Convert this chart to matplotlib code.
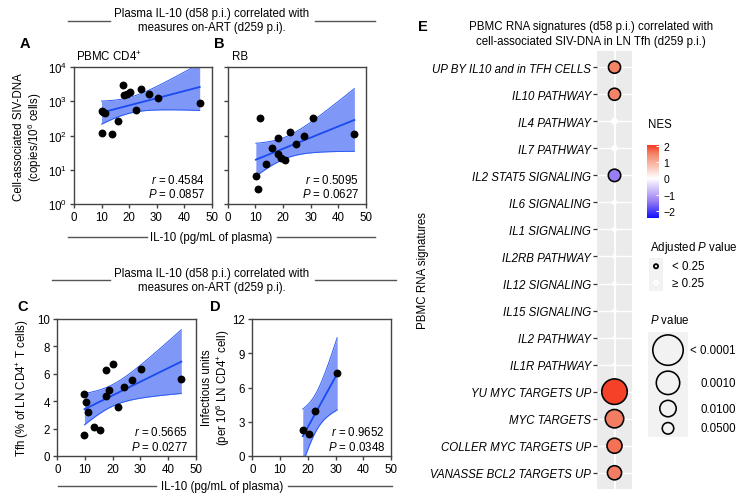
import numpy as np
import matplotlib
matplotlib.use('Agg')
import matplotlib.pyplot as plt
from matplotlib.lines import Line2D
from matplotlib.colors import LinearSegmentedColormap, Normalize
from matplotlib.cm import ScalarMappable
import matplotlib.ticker as mticker

plt.rcParams['font.family'] = ['Liberation Sans', 'DejaVu Sans']
plt.rcParams['mathtext.fontset'] = 'custom'
plt.rcParams['mathtext.rm'] = 'Liberation Sans'
plt.rcParams['mathtext.it'] = 'Liberation Sans:italic'
plt.rcParams['mathtext.bf'] = 'Liberation Sans:bold'
plt.rcParams['axes.unicode_minus'] = True

# ---------------- data ----------------
# Panel A: PBMC CD4+  (IL-10 pg/mL vs cell-associated SIV-DNA copies/1e6 cells)
a_il10 = [10.0, 10.5, 11.2, 10.0, 13.7, 15.9, 17.9, 18.3, 19.3, 20.5, 22.5, 24.5, 27.4, 30.6, 45.7]
a_dna = [527, 500, 462, 120, 108, 267, 3020, 1555, 1580, 1850, 563, 2310, 1630, 1220, 895]
a_stats = ("0.4584", "0.0857")
# Panel B: RB
b_il10 = [11.6, 10.2, 11.0, 13.9, 16.0, 18.2, 18.2, 19.2, 20.8, 22.7, 24.8, 27.6, 30.7, 45.8]
b_dna = [333, 6.5, 2.7, 14.4, 43.6, 83, 29, 21.6, 19.6, 124, 55, 95, 326, 108]
b_stats = ("0.5095", "0.0627")
# Panel C: Tfh (% of LN CD4+ T cells)
c_il10 = [9.8, 10.4, 11.0, 9.8, 13.3, 15.5, 17.7, 20.1, 17.7, 18.5, 21.9, 24.2, 26.9, 30.1, 44.8]
c_tfh = [4.51, 3.95, 3.24, 1.56, 2.10, 1.88, 6.29, 6.68, 4.41, 4.80, 3.59, 5.07, 5.56, 6.37, 5.59]
c_stats = ("0.5665", "0.0277")
# Panel D: infectious units per 1e6 LN CD4+ cells
d_il10 = [18.2, 20.6, 22.6, 30.6]
d_iu = [2.30, 1.90, 3.91, 7.29]
d_stats = ("0.9652", "0.0348")
# t critical values (two-sided 95%) by degrees of freedom
t975 = {13: 2.160, 12: 2.179, 2: 4.303}

# Panel E: GSEA dot plot
sig_names = ["UP BY IL10 and in TFH CELLS", "IL10 PATHWAY", "IL4 PATHWAY", "IL7 PATHWAY",
             "IL2 STAT5 SIGNALING", "IL6 SIGNALING", "IL1 SIGNALING", "IL2RB PATHWAY",
             "IL12 SIGNALING", "IL15 SIGNALING", "IL2 PATHWAY", "IL1R PATHWAY",
             "YU MYC TARGETS UP", "MYC TARGETS", "COLLER MYC TARGETS UP", "VANASSE BCL2 TARGETS UP"]
sig_nes = [1.5, 1.5, 0.05, 0.05, -1.4, 0.03, 0.03, 0.02, 0.02, 0.02, 0.0, 0.0, 2.0, 1.55, 1.65, 1.55]
sig_p = [0.041, 0.041, 0.37, 0.44, 0.037, 0.72, 0.72, 0.85, 0.85, 0.85, 1.0, 0.98,
         0.0005, 0.0051, 0.0155, 0.021]
sig_padj = [0.15, 0.15, 0.80, 0.85, 0.20, 0.90, 0.90, 0.95, 0.95, 0.95, 1.0, 1.0,
            0.02, 0.06, 0.12, 0.15]
nes_range = (-2.45, 2.06)
pleg_breaks = [0.0001, 0.001, 0.01, 0.05]
pleg_labels = ["< 0.0001", "0.0010", "0.0100", "0.0500"]
padj_labels = ["< 0.25", "\u2265 0.25"]

# ---------------- figure helpers ----------------
W, H = 748, 502
fig = plt.figure(figsize=(W / 100, H / 100), dpi=100)
FS = 8.3
SPC = '#444444'


def px_axes(l, t, r, b):
    return fig.add_axes([l / W, 1 - b / H, (r - l) / W, (b - t) / H])


def ftext(x, y, s, **kw):
    kw.setdefault('fontsize', FS)
    return fig.text(x / W, 1 - y / H, s, **kw)


def hline(x0, x1, y):
    fig.add_artist(Line2D([x0 / W, x1 / W], [1 - y / H, 1 - y / H],
                          transform=fig.transFigure, color='#555555', lw=1.0))


def style(ax):
    for sp in ax.spines.values():
        sp.set_color(SPC)
        sp.set_linewidth(1.0)
    ax.tick_params(direction='out', length=2.6, width=1.0, color=SPC,
                   labelsize=FS, pad=2.5)


BAND = '#7F97F7'
EDGE = '#2B5BF5'
LINE = '#1A4BEE'


def draw_fit(ax, x, y, tcrit, log=False):
    x = np.asarray(x, float)
    y = np.asarray(y, float)
    yy = np.log10(y) if log else y
    n = len(x)
    b, a = np.polyfit(x, yy, 1)
    xs = np.linspace(x.min(), x.max(), 200)
    yhat = a + b * xs
    resid = yy - (a + b * x)
    s = np.sqrt(np.sum(resid ** 2) / (n - 2))
    sxx = np.sum((x - x.mean()) ** 2)
    se = s * np.sqrt(1 / n + (xs - x.mean()) ** 2 / sxx)
    lo, hi = yhat - tcrit * se, yhat + tcrit * se
    tr = (lambda v: 10 ** v) if log else (lambda v: v)
    ax.fill_between(xs, tr(lo), tr(hi), color=BAND, lw=0, zorder=1)
    ax.plot(xs, tr(lo), color=EDGE, lw=0.7, zorder=2)
    ax.plot(xs, tr(hi), color=EDGE, lw=0.7, zorder=2)
    ax.plot(xs, tr(yhat), color=LINE, lw=1.3, zorder=3)
    ax.scatter(x, y, s=32, color='black', zorder=4, linewidths=0, clip_on=False)


def stats_text(x, y, stats):
    ftext(x, y, "$r$ = " + stats[0], ha='right', va='center')
    ftext(x, y + 15, "$P$ = " + stats[1], ha='right', va='center')


# ---------------- Panel A ----------------
axA = px_axes(74, 68, 211.5, 205)
axA.set_yscale('log')
draw_fit(axA, a_il10, a_dna, t975[len(a_il10) - 2], log=True)
axA.set_xlim(0, 50)
axA.set_ylim(1, 1e4)
axA.set_xticks(range(0, 51, 10))
axA.yaxis.set_major_locator(mticker.LogLocator(base=10, numticks=10))
axA.yaxis.set_minor_locator(mticker.NullLocator())
style(axA)

# ---------------- Panel B ----------------
axB = px_axes(227.6, 68, 366, 205)
axB.set_yscale('log')
draw_fit(axB, b_il10, b_dna, t975[len(b_il10) - 2], log=True)
axB.set_xlim(0, 50)
axB.set_ylim(1, 1e4)
axB.set_xticks(range(0, 51, 10))
axB.yaxis.set_major_locator(mticker.LogLocator(base=10, numticks=10))
axB.yaxis.set_minor_locator(mticker.NullLocator())
axB.set_yticklabels([])
style(axB)

# ---------------- Panel C ----------------
axC = px_axes(57.3, 320, 195.7, 457)
draw_fit(axC, c_il10, c_tfh, t975[len(c_il10) - 2])
axC.set_xlim(0, 50)
axC.set_ylim(0, 10)
axC.set_xticks(range(0, 51, 10))
axC.set_yticks(range(0, 11, 2))
style(axC)

# ---------------- Panel D ----------------
axD = px_axes(252.3, 320, 391, 457)
draw_fit(axD, d_il10, d_iu, t975[len(d_il10) - 2])
axD.set_xlim(0, 50)
axD.set_ylim(0, 12)
axD.set_xticks(range(0, 51, 10))
axD.set_yticks(range(0, 13, 3))
style(axD)

stats_text(205, 180, a_stats)
stats_text(359, 180, b_stats)
stats_text(188, 433, c_stats)
stats_text(385, 433, d_stats)

# titles, separators and axis labels (left block)
ftext(212, 14, "Plasma IL-10 (d58 p.i.) correlated with", ha='center', va='center')
ftext(212, 28.5, "measures on-ART (d259 p.i).", ha='center', va='center')
hline(68, 110, 21.7)
hline(315, 375, 21.7)
ftext(211, 238, "IL-10 (pg/mL of plasma)", ha='center', va='center')
hline(68, 147, 238)
hline(277, 375, 238)

ftext(212, 274, "Plasma IL-10 (d58 p.i.) correlated with", ha='center', va='center')
ftext(212, 288, "measures on-ART (d259 p.i).", ha='center', va='center')
hline(52, 110, 280.5)
hline(315, 396, 280.5)
ftext(222, 487, "IL-10 (pg/mL of plasma)", ha='center', va='center')
hline(58, 156, 487)
hline(288, 392, 487)

ftext(25, 44, "A", fontsize=10.5, fontweight='bold', ha='center', va='center')
ftext(219, 44, "B", fontsize=10.5, fontweight='bold', ha='center', va='center')
ftext(23, 307, "C", fontsize=10.5, fontweight='bold', ha='center', va='center')
ftext(215, 307, "D", fontsize=10.5, fontweight='bold', ha='center', va='center')
ftext(423, 27, "E", fontsize=10.5, fontweight='bold', ha='center', va='center')

ftext(76, 57, "PBMC CD4$^{+}$", ha='left', va='center')
ftext(232, 57, "RB", ha='left', va='center')

ftext(19, 137, "Cell-associated SIV-DNA", rotation=90, ha='center', va='center')
ftext(35, 137, "(copies/10$^{6}$ cells)", rotation=90, ha='center', va='center')
ftext(23, 388, "Tfh (% of LN CD4$^{+}$ T cells)", rotation=90, ha='center', va='center')
ftext(207, 388, "Infectious units", rotation=90, ha='center', va='center')
ftext(223, 388, "(per 10$^{6}$ LN CD4$^{+}$ cell)", rotation=90, ha='center', va='center')

# ---------------- Panel E ----------------
vmin, vmax = nes_range
anchors = [(-2.45, '#1010FF'), (-1.4, '#9A7EF2'), (0.0, '#FFFFFF'),
           (1.5, '#F3866A'), (2.06, '#F63A22')]
cmap = LinearSegmentedColormap.from_list(
    'nes', [((v - vmin) / (vmax - vmin), c) for v, c in anchors])
norm = Normalize(vmin=vmin, vmax=vmax)


def p_to_px(p):
    return 7.0 * (-np.log10(np.maximum(np.asarray(p, float), 1e-4))) + 4.0


axE = px_axes(597, 52, 632, 490)
axE.set_facecolor('#EBEBEB')
for sp in axE.spines.values():
    sp.set_visible(False)
ny = len(sig_names)
yy = np.arange(ny)
for yv in yy:
    axE.axhline(yv, color='white', lw=1.0, zorder=0)
axE.axvline(0, color='white', lw=1.3, zorder=0)
sig = np.asarray(sig_padj) < 0.25
dpx = p_to_px(sig_p)
lw_px = np.where(sig, 1.6, 1.0)
sizes = ((dpx - lw_px) * 0.72) ** 2
cols = cmap(norm(np.asarray(sig_nes)))
cols[~sig] = (1, 1, 1, 1)
edges = np.array(['black' if s else 'white' for s in sig])
axE.scatter(np.zeros(ny), yy, s=sizes, c=cols, edgecolors=edges,
            linewidths=lw_px * 0.72, zorder=3, clip_on=False)
axE.set_xlim(-0.6, 0.6)
axE.set_ylim(ny - 0.4, -0.6)
axE.set_xticks([])
axE.set_yticks(yy)
axE.set_yticklabels(sig_names, fontstyle='italic', fontsize=FS)
axE.tick_params(axis='y', length=2.6, width=0.9, color='#333333', pad=1.5)

ftext(591, 27, "PBMC RNA signatures (d58 p.i.) correlated with", ha='center', va='center')
ftext(591, 42, "cell-associated SIV-DNA in LN Tfh (d259 p.i.)", ha='center', va='center')
ftext(423, 271, "PBMC RNA signatures", rotation=90, ha='center', va='center')

# NES colorbar
ftext(648, 125, "NES", ha='left', va='center')
cax = px_axes(647, 146, 659, 219)
cb = fig.colorbar(ScalarMappable(norm=norm, cmap=cmap), cax=cax)
cb.outline.set_visible(False)
cb.set_ticks([-2, -1, 0, 1, 2])
cax.tick_params(length=2.5, width=0.8, color='white', direction='in',
                labelsize=7.6, pad=3)

# Adjusted P value legend
ftext(650, 248, "Adjusted $P$ value", ha='left', va='center')
lx0, ly0, lx1, ly1 = 649, 259, 663, 292
axL = px_axes(lx0, ly0, lx1, ly1)
axL.set_facecolor('#F2F2F2')
axL.set_xlim(0, lx1 - lx0)
axL.set_ylim(ly1 - ly0, 0)
for sp in axL.spines.values():
    sp.set_visible(False)
axL.set_xticks([])
axL.set_yticks([])
kh = (ly1 - ly0) / len(padj_labels)
kc = kh * (np.arange(len(padj_labels)) + 0.5)
axL.scatter([(lx1 - lx0) / 2] * 2, kc, s=(4.2 * 0.72) ** 2, c='#F2F2F2',
            edgecolors=['black', 'white'], linewidths=1.8 * 0.72, clip_on=False, zorder=3)
for yc, lab in zip(kc, padj_labels):
    axL.text(672 - lx0, yc, lab, ha='left', va='center', fontsize=FS, clip_on=False)

# P value legend
ftext(650, 321, "$P$ value", ha='left', va='center')
px0, py0, px1, py1 = 648, 333, 688, 438
axP = px_axes(px0, py0, px1, py1)
axP.set_facecolor('#F2F2F2')
axP.set_xlim(0, px1 - px0)
axP.set_ylim(py1 - py0, 0)
for sp in axP.spines.values():
    sp.set_visible(False)
axP.set_xticks([])
axP.set_yticks([])
dleg = p_to_px(pleg_breaks)
hk = dleg + ((py1 - py0) - dleg.sum()) / len(dleg)
yc = np.cumsum(hk) - hk / 2
axP.scatter([(px1 - px0) / 2] * len(dleg), yc, s=((dleg - 1.6) * 0.72) ** 2,
            c='#F2F2F2', edgecolors='black', linewidths=1.6 * 0.72, clip_on=False, zorder=3)
for y_, lab in zip(yc, pleg_labels):
    axP.text(736 - px0, y_, lab, ha='right', va='center', fontsize=FS, clip_on=False)

fig.savefig('out.png', dpi=100)
